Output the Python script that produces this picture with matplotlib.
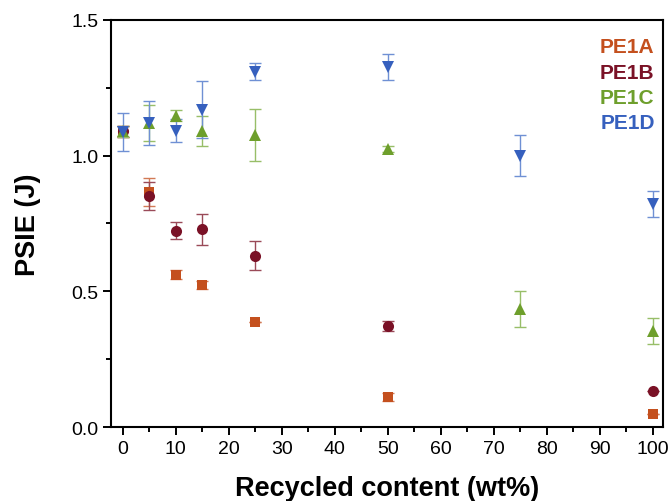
import matplotlib
matplotlib.use("Agg")
import matplotlib.pyplot as plt
from matplotlib.lines import Line2D
from matplotlib.ticker import MultipleLocator, FormatStrFormatter

plt.rcParams['font.family'] = ['Liberation Sans', 'DejaVu Sans']

# Data
x_A = [0, 5, 10, 15, 25, 50, 100]
y_A = [1.09, 0.865, 0.562, 0.524, 0.387, 0.111, 0.048]
e_A = [0.02, 0.052, 0.015, 0.015, 0.0, 0.015, 0.0]

x_B = [0, 5, 10, 15, 25, 50, 100]
y_B = [1.09, 0.852, 0.724, 0.729, 0.632, 0.372, 0.134]
e_B = [0.02, 0.052, 0.032, 0.057, 0.053, 0.017, 0.0]

x_C = [0, 5, 10, 15, 25, 50, 75, 100]
y_C = [1.09, 1.12, 1.147, 1.09, 1.077, 1.025, 0.435, 0.354]
e_C = [0.02, 0.065, 0.02, 0.055, 0.095, 0.012, 0.066, 0.048]

x_D = [0, 5, 10, 15, 25, 50, 75, 100]
y_D = [1.088, 1.12, 1.092, 1.17, 1.31, 1.325, 1.0, 0.823]
e_D = [0.07, 0.08, 0.042, 0.105, 0.03, 0.048, 0.075, 0.048]

labels = ['PE1A', 'PE1B', 'PE1C', 'PE1D']
colors = ['#C4501E', '#7A1126', '#6E9F2C', '#3660BE']
err_colors = ['#D27A55', '#9A4A58', '#98BE68', '#6F90D4']
markers = ['s', 'o', '^', 'v']
msizes = [7, 8, 8.8, 8.8]

fig = plt.figure(figsize=(6.71, 5.02), dpi=100)
ax = fig.add_axes([0.1654, 0.1474, 0.8227, 0.8108])

series = [(x_A, y_A, e_A), (x_B, y_B, e_B), (x_C, y_C, e_C), (x_D, y_D, e_D)]
for (xs, ys, es), ec in zip(series, err_colors):
    ax.errorbar(xs, ys, yerr=es, fmt='none', ecolor=ec, elinewidth=1.0,
                capsize=4, capthick=1.0, zorder=2)
for (xs, ys, es), c, m, ms in zip(series, colors, markers, msizes):
    ax.plot(xs, ys, linestyle='none', marker=m, markersize=ms, color=c,
            markeredgewidth=0, zorder=3)

ax.set_xlim(-2.2, 101.9)
ax.set_ylim(0, 1.5)
ax.xaxis.set_major_locator(MultipleLocator(10))
ax.xaxis.set_minor_locator(MultipleLocator(5))
ax.yaxis.set_major_locator(MultipleLocator(0.5))
ax.yaxis.set_minor_locator(MultipleLocator(0.25))
ax.yaxis.set_major_formatter(FormatStrFormatter('%.1f'))
ax.tick_params(which='major', direction='out', length=6, width=1.4, labelsize=14, pad=3)
ax.tick_params(which='minor', direction='out', length=3.5, width=1.4)
for s in ax.spines.values():
    s.set_linewidth(1.5)

ax.set_xlabel('Recycled content (wt%)', fontsize=19.5, fontweight='bold', labelpad=13)
ax.set_ylabel('PSIE (J)', fontsize=19.5, fontweight='bold', labelpad=22)

handles = [Line2D([], [], linestyle='none', color=c) for c in colors]
leg = ax.legend(handles, labels, loc='upper right', bbox_to_anchor=(1.0, 0.978),
                frameon=False, handlelength=0, handletextpad=0, labelcolor=colors,
                prop={'weight': 'bold', 'size': 15}, labelspacing=0.3,
                borderaxespad=0.0, markerfirst=False, alignment='right')

fig.savefig('out.png', dpi=100)
